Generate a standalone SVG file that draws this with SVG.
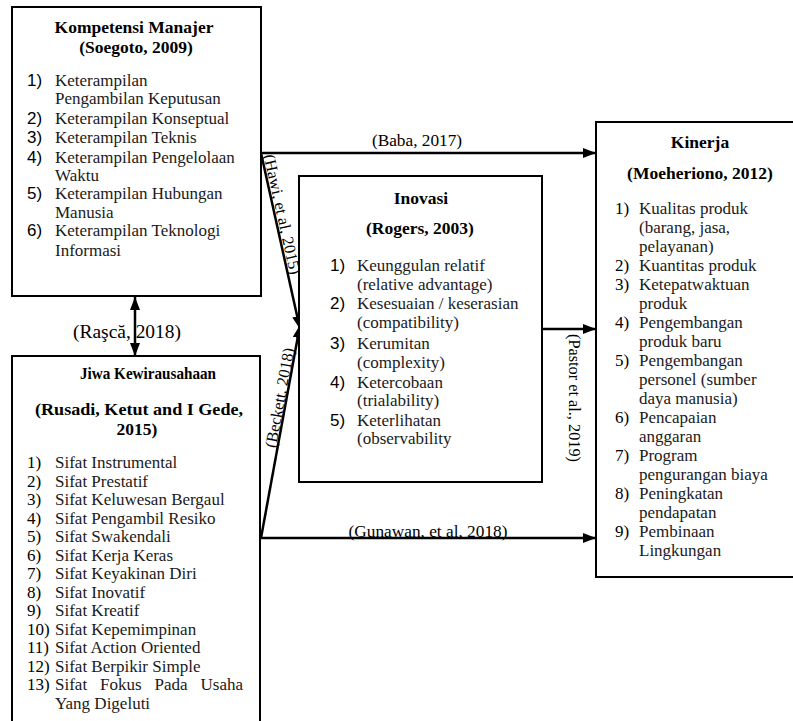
<svg xmlns="http://www.w3.org/2000/svg" width="793" height="721" viewBox="0 0 793 721">
<defs>
<marker id="ah" markerUnits="userSpaceOnUse" markerWidth="14" markerHeight="12" refX="13" refY="5" orient="auto-start-reverse">
<path d="M0,0 L13,5 L0,10 z" fill="#000"/>
</marker>
<style>
.box{fill:#fff;stroke:#000;stroke-width:2}
.hd{font-family:"Liberation Serif",serif;font-weight:bold;font-size:17.5px;fill:#000;text-anchor:middle}
.it{font-family:"Liberation Serif",serif;font-size:17px;fill:#1a1a1a}
.ns{font-family:"Liberation Sans",sans-serif;font-size:17px;fill:#000}
.nr{font-family:"Liberation Serif",serif;font-size:17px;fill:#000}
.lb{font-family:"Liberation Serif",serif;font-size:16.3px;fill:#000}
.lh{font-family:"Liberation Serif",serif;font-size:17.3px;fill:#000;text-anchor:middle}
.cn{stroke:#000;stroke-width:2.5;fill:none}
</style>
</defs>
<rect width="793" height="721" fill="#fff"/>
<g id="connectors">
<line class="cn" x1="261" y1="153" x2="596" y2="153" marker-end="url(#ah)"/>
<line class="cn" x1="261" y1="153" x2="300" y2="329" marker-end="url(#ah)"/>
<line class="cn" x1="261" y1="538" x2="300" y2="325" marker-end="url(#ah)"/>
<line class="cn" x1="261" y1="538" x2="596" y2="538" marker-end="url(#ah)"/>
<line class="cn" x1="542" y1="329" x2="596" y2="329" marker-end="url(#ah)"/>
<line class="cn" x1="135" y1="297" x2="135" y2="356" marker-start="url(#ah)" marker-end="url(#ah)"/>
<text class="lh" x="417" y="146">(Baba, 2017)</text>
<text class="lb" transform="translate(275,216) rotate(77.4)" y="-2" text-anchor="middle">(Hawi, et al, 2015)</text>
<text class="lb" transform="translate(286,399) rotate(-79.5)" y="-1" text-anchor="middle">(Beckett, 2018)</text>
<text class="lh" x="428" y="537">(Gunawan, et al, 2018)</text>
<text class="lb" transform="translate(569,398) rotate(90)" text-anchor="middle">(Pastor et al., 2019)</text>
<text class="lh" x="127" y="338" style="font-size:18.5px" textLength="108" lengthAdjust="spacingAndGlyphs">(Raşcă, 2018)</text>
</g>
<g id="kompetensi">
<rect class="box" x="12" y="7" width="249" height="289"/>
<text class="hd" x="134" y="33">Kompetensi Manajer</text>
<text class="hd" x="136" y="53">(Soegoto, 2009)</text>
<text class="ns" x="27" y="86">1)</text>
<text class="it" x="55" y="86">Keterampilan</text>
<text class="it" x="55" y="104">Pengambilan Keputusan</text>
<text class="ns" x="27" y="124">2)</text>
<text class="it" x="55" y="124">Keterampilan Konseptual</text>
<text class="ns" x="27" y="143">3)</text>
<text class="it" x="55" y="143">Keterampilan Teknis</text>
<text class="ns" x="27" y="163">4)</text>
<text class="it" x="55" y="163">Keterampilan Pengelolaan</text>
<text class="it" x="55" y="181">Waktu</text>
<text class="ns" x="27" y="199">5)</text>
<text class="it" x="55" y="199">Keterampilan Hubungan</text>
<text class="it" x="55" y="218">Manusia</text>
<text class="ns" x="27" y="236">6)</text>
<text class="it" x="55" y="236">Keterampilan Teknologi</text>
<text class="it" x="55" y="256">Informasi</text>
</g>
<g id="jiwa">
<rect class="box" x="12" y="356" width="248" height="372"/>
<text class="hd" x="148" y="379" style="font-size:17px" textLength="136" lengthAdjust="spacingAndGlyphs">Jiwa Kewirausahaan</text>
<text class="hd" x="139" y="415" textLength="208" lengthAdjust="spacingAndGlyphs">(Rusadi, Ketut and I Gede,</text>
<text class="hd" x="137" y="435">2015)</text>
<text class="nr" x="27" y="468">1)</text><text class="it" x="55" y="468">Sifat Instrumental</text>
<text class="nr" x="27" y="486.5">2)</text><text class="it" x="55" y="486.5">Sifat Prestatif</text>
<text class="nr" x="27" y="505">3)</text><text class="it" x="55" y="505">Sifat Keluwesan Bergaul</text>
<text class="nr" x="27" y="523.5">4)</text><text class="it" x="55" y="523.5">Sifat Pengambil Resiko</text>
<text class="nr" x="27" y="542">5)</text><text class="it" x="55" y="542">Sifat Swakendali</text>
<text class="nr" x="27" y="560.5">6)</text><text class="it" x="55" y="560.5">Sifat Kerja Keras</text>
<text class="nr" x="27" y="579">7)</text><text class="it" x="55" y="579">Sifat Keyakinan Diri</text>
<text class="nr" x="27" y="597.5">8)</text><text class="it" x="55" y="597.5">Sifat Inovatif</text>
<text class="nr" x="27" y="616">9)</text><text class="it" x="55" y="616">Sifat Kreatif</text>
<text class="nr" x="27" y="634.5">10)</text><text class="it" x="55" y="634.5">Sifat Kepemimpinan</text>
<text class="nr" x="27" y="653">11)</text><text class="it" x="55" y="653">Sifat Action Oriented</text>
<text class="nr" x="27" y="671.5">12)</text><text class="it" x="55" y="671.5">Sifat Berpikir Simple</text>
<text class="nr" x="27" y="690">13)</text>
<text class="it" y="690"><tspan x="55">Sifat</tspan><tspan x="100">Fokus</tspan><tspan x="154.5">Pada</tspan></text>
<text class="it" x="243" y="690" text-anchor="end">Usaha</text>
<text class="it" x="55" y="708.5">Yang Digeluti</text>
</g>
<g id="inovasi">
<rect class="box" x="299" y="176" width="243" height="306"/>
<text class="hd" x="421" y="204">Inovasi</text>
<text class="hd" x="420" y="234">(Rogers, 2003)</text>
<text class="ns" x="330" y="271">1)</text><text class="it" x="357" y="271">Keunggulan relatif</text>
<text class="it" x="357" y="290">(relative advantage)</text>
<text class="ns" x="330" y="309">2)</text><text class="it" x="357" y="309">Kesesuaian / keserasian</text>
<text class="it" x="357" y="328">(compatibility)</text>
<text class="ns" x="330" y="349">3)</text><text class="it" x="357" y="349">Kerumitan</text>
<text class="it" x="357" y="368">(complexity)</text>
<text class="ns" x="330" y="388">4)</text><text class="it" x="357" y="388">Ketercobaan</text>
<text class="it" x="357" y="406">(trialability)</text>
<text class="ns" x="330" y="426">5)</text><text class="it" x="357" y="426">Keterlihatan</text>
<text class="it" x="357" y="444">(observability</text>
</g>
<g id="kinerja">
<rect class="box" x="596" y="122" width="214" height="455"/>
<text class="hd" x="700" y="148">Kinerja</text>
<text class="hd" x="700" y="179">(Moeheriono, 2012)</text>
<text class="nr" x="615" y="214">1)</text><text class="it" x="639" y="214">Kualitas produk</text>
<text class="it" x="639" y="233">(barang, jasa,</text>
<text class="it" x="639" y="252">pelayanan)</text>
<text class="nr" x="615" y="271">2)</text><text class="it" x="639" y="271">Kuantitas produk</text>
<text class="nr" x="615" y="290">3)</text><text class="it" x="639" y="290">Ketepatwaktuan</text>
<text class="it" x="639" y="309">produk</text>
<text class="nr" x="615" y="328">4)</text><text class="it" x="639" y="328">Pengembangan</text>
<text class="it" x="639" y="347">produk baru</text>
<text class="nr" x="615" y="366">5)</text><text class="it" x="639" y="366">Pengembangan</text>
<text class="it" x="639" y="385">personel (sumber</text>
<text class="it" x="639" y="404">daya manusia)</text>
<text class="nr" x="615" y="423">6)</text><text class="it" x="639" y="423">Pencapaian</text>
<text class="it" x="639" y="442">anggaran</text>
<text class="nr" x="615" y="461">7)</text><text class="it" x="639" y="461">Program</text>
<text class="it" x="639" y="480">pengurangan biaya</text>
<text class="nr" x="615" y="499">8)</text><text class="it" x="639" y="499">Peningkatan</text>
<text class="it" x="639" y="518">pendapatan</text>
<text class="nr" x="615" y="537">9)</text><text class="it" x="639" y="537">Pembinaan</text>
<text class="it" x="639" y="556">Lingkungan</text>
</g>
</svg>
